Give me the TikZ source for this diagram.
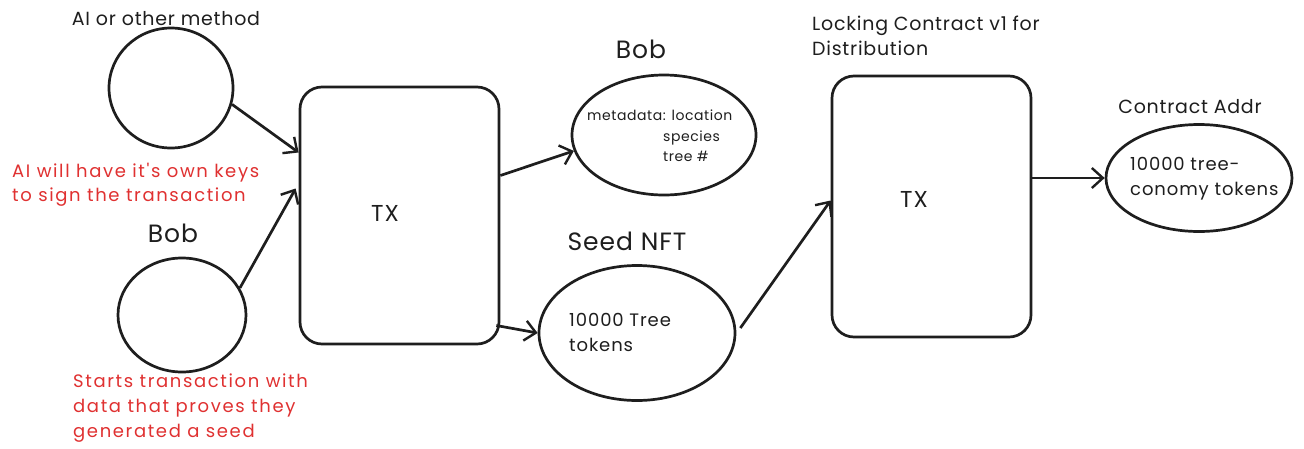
\documentclass[tikz,border=0pt]{standalone}
\usepackage{fontspec}
\setmainfont{Poppins}
\newfontfamily\fsA[LetterSpace=4]{Poppins}
\newfontfamily\fsB[LetterSpace=9]{Poppins}
\newfontfamily\fsC[LetterSpace=5]{Poppins}
\usetikzlibrary{arrows.meta,shapes.geometric}
\definecolor{notered}{HTML}{E03131}
\definecolor{inkblack}{HTML}{1E1E1E}
\begin{document}
\begin{tikzpicture}[x=1pt,y=-1pt,
  shapeline/.style={draw=inkblack,line width=2.7pt},
  ellnode/.style={shapeline,ellipse,inner sep=0pt},
  txbox/.style={shapeline,rounded corners=22pt,inner sep=0pt},
  conn/.style={draw=inkblack,line width=2.7pt,-{Straight Barb[length=11pt,width=20pt,line width=2.4pt]}},
  txt/.style={inner sep=0pt,text=inkblack},
  lbl/.style={txt,anchor=base,font=\fsA\fontsize{19}{22}\selectfont},
  biglbl/.style={txt,anchor=base,font=\fsA\fontsize{25}{30}\selectfont},
  small/.style={txt,anchor=base west,font=\fsA\fontsize{14}{16}\selectfont},
  body/.style={txt,anchor=base west,font=\fsC\fontsize{18}{22}\selectfont},
  note/.style={inner sep=0pt,text=notered,anchor=base west,font=\fsB\fontsize{18}{20}\selectfont}]
\useasboundingbox[fill=white] (0,0) rectangle (1304,448);

% shapes
\node[ellnode,minimum width=124pt,minimum height=120pt] (ai) at (171,88) {};
\node[ellnode,minimum width=128pt,minimum height=114pt] (bob) at (182,315) {};
\node[txbox,minimum width=199pt,minimum height=257pt] (tx1) at (399.5,215.5) {};
\node[ellnode,minimum width=184pt,minimum height=120pt] (meta) at (664,135) {};
\node[ellnode,minimum width=196pt,minimum height=135pt] (seed) at (637,333) {};
\node[txbox,minimum width=199pt,minimum height=261pt] (tx2) at (931.5,206.5) {};
\node[ellnode,minimum width=186pt,minimum height=107pt] (addr) at (1199,178) {};

% labels
\node[lbl] (ailbl) at (166,25) {AI or other method};
\node[biglbl] (boblbl) at (173,242) {Bob};
\node[biglbl] (bob2lbl) at (641,58) {Bob};
\node[biglbl] (seedlbl) at (627,250) {Seed NFT};
\node[lbl,anchor=base west] (lock1) at (812,30) {Locking Contract v1 for};
\node[lbl,anchor=base west] (lock2) at (812,55) {Distribution};
\node[lbl] (addrlbl) at (1190,113) {Contract Addr};

\node[biglbl,font=\fsA\fontsize{23}{28}\selectfont] (tx1t) at (385,221) {TX};
\node[biglbl,font=\fsA\fontsize{23}{28}\selectfont] (tx2t) at (914,207) {TX};

\node[small] (m1) at (587,120) {metadata: location};
\node[small] (m2) at (663,141) {species};
\node[small] (m3) at (663,161) {tree \#};

\node[body] (s1) at (569,326) {10000 Tree};
\node[body] (s2) at (569,351) {tokens};

\node[body] (a1) at (1130,170) {10000 tree-};
\node[body] (a2) at (1130,195) {conomy tokens};

% notes
\node[note] (n1) at (12,177) {AI will have it's own keys};
\node[note] (n2) at (12,201) {to sign the transaction};
\node[note] (n3) at (73,387) {Starts transaction with};
\node[note] (n4) at (73,412) {data that proves they};
\node[note] (n5) at (73,437) {generated a seed};

% connectors
\draw[conn] (ai.-15) -- ([yshift=63pt]tx1.west);
\draw[conn] (bob.25) -- ([yshift=27pt,xshift=-3pt]tx1.west);
\draw[conn] ([yshift=40pt]tx1.east) -- (meta.190);
\draw[conn] ([yshift=-110pt,xshift=-4pt]tx1.east) -- (seed.west);
\draw[conn] ([yshift=5pt,xshift=4pt]seed.east) -- ([yshift=6pt]tx2.west);
\draw[conn] (tx2.east |- addr.west) -- (addr.west);
\end{tikzpicture}
\end{document}
